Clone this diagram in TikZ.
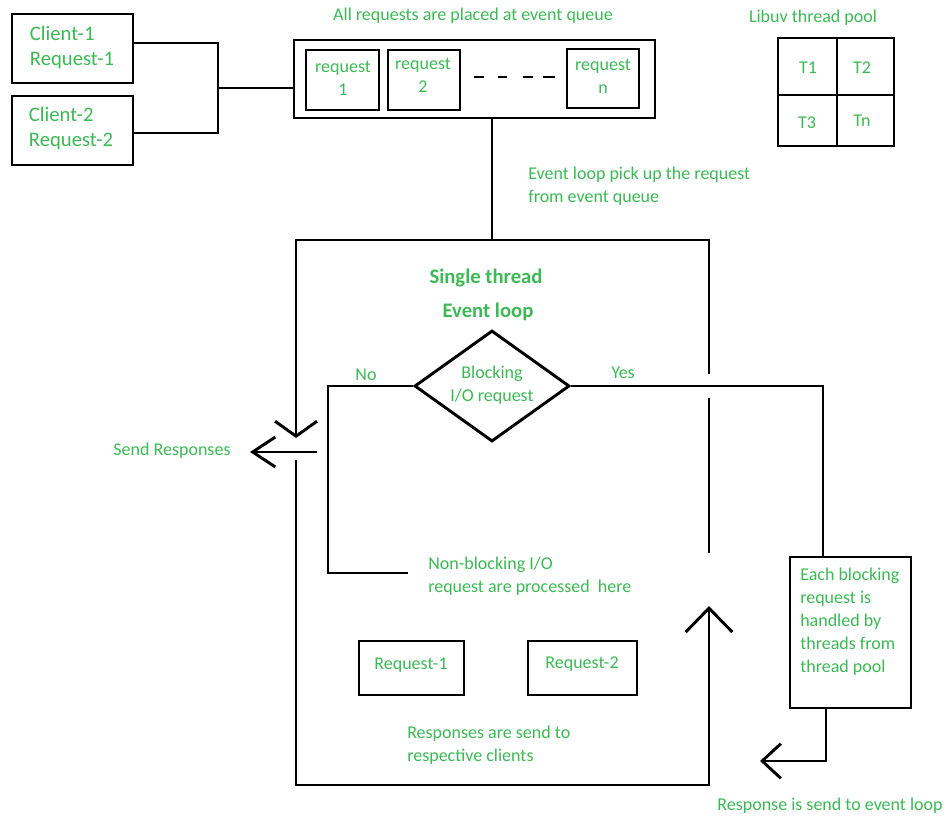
\documentclass[tikz,border=0pt]{standalone}
\usepackage{fontspec}
\setmainfont{Carlito}
\usetikzlibrary{arrows.meta,shapes.geometric}
\definecolor{lbl}{RGB}{60,185,85}
\tikzset{
  box/.style={draw, line width=2.2pt, inner sep=0pt, outer sep=0pt},
  ln/.style={line width=2.2pt},
  txt/.style={text=lbl, font=\fontsize{13.5}{17.25}\selectfont, align=left, inner sep=0pt},
  bigtxt/.style={text=lbl, font=\fontsize{15.5}{18.75}\selectfont, align=left, inner sep=0pt},
  boldtxt/.style={text=lbl, font=\bfseries\fontsize{15.5}{18.75}\selectfont, inner sep=0pt},
}
\begin{document}
\begin{tikzpicture}[x=0.75pt,y=-0.75pt]
\useasboundingbox (0,0) rectangle (946,816);

% clients
\node[box, minimum width=90.75pt, minimum height=51.75pt] (c1) at (72.5,48.5) {};
\node[bigtxt] at (72,47) {Client-1\\Request-1};
\node[box, minimum width=90.75pt, minimum height=51.75pt] (c2) at (72.5,130.5) {};
\node[bigtxt] at (71,128) {Client-2\\Request-2};

% event queue
\node[txt] (qlabel) at (473,16) {All requests are placed at event queue};
\node[box, minimum width=270.75pt, minimum height=58.5pt] (queue) at (474.5,79) {};
\node[box, minimum width=54.75pt, minimum height=45pt] (r1) at (342.5,80) {};
\node[txt, align=center] at (343,78) {request\\1};
\node[box, minimum width=54pt, minimum height=45pt] (r2) at (424,80) {};
\node[txt, align=center] at (423,75) {request\\2};
\node[box, minimum width=54pt, minimum height=44.25pt] (rn) at (603,78.5) {};
\node[txt, align=center] at (603,76) {request\\n};
\coordinate (d1a) at (474,77); \coordinate (d1b) at (484,77);
\coordinate (d2a) at (498,77); \coordinate (d2b) at (507,77);
\coordinate (d3a) at (523,77); \coordinate (d3b) at (533,77);
\coordinate (d4a) at (543,77); \coordinate (d4b) at (555,77);
\draw[ln] (d1a) -- (d1b) (d2a) -- (d2b) (d3a) -- (d3b) (d4a) -- (d4b);

% client connectors
\coordinate (j) at (218,88);
\draw[ln] ([yshift=4.1pt]c1.east) -| (j);
\draw[ln] ([yshift=-1.9pt]c2.east) -| (j);
\draw[ln] (j) -- (j -| queue.west);

% thread pool
\node[txt] (plabel) at (813,18) {Libuv thread pool};
\node[box, minimum width=44.25pt, minimum height=42.75pt] (t1) at (807.5,66.5) {};
\node[box, minimum width=42.75pt, minimum height=42.75pt] (t2) at (865.5,66.5) {};
\node[box, minimum width=44.25pt, minimum height=38.25pt] (t3) at (807.5,120.5) {};
\node[box, minimum width=42.75pt, minimum height=38.25pt] (tn) at (865.5,120.5) {};
\node[txt] at (808,68) {T1};
\node[txt] at (862,68) {T2};
\node[txt] at (807,123) {T3};
\node[txt] at (862,121) {Tn};

% event loop
\node[diamond, draw, line width=2.2pt, minimum width=116.25pt, minimum height=83.25pt, inner sep=0pt] (dia) at (492,386) {};
\node[txt, align=center] at (492,385) {Blocking\\I/O request};
\node[txt] (pick) [anchor=west] at (528,186.5) {Event loop pick up the request\\from event queue};
\node[boldtxt] at (486,278) {Single thread};
\node[boldtxt] at (488,312) {Event loop};
\node[txt] at (366,375) {No};
\node[txt] at (623,373) {Yes};

\coordinate (TL) at (296,240);
\coordinate (TR) at (709,240);
\coordinate (BL) at (296,785);
\coordinate (BR) at (709,785);
\coordinate (rg1) at (709,374);
\coordinate (rg2) at (709,398);
\coordinate (rg3) at (709,553);
\coordinate (uptip) at (709,606);
\coordinate (dntip) at (296,438);
\coordinate (lg) at (296,460);

\draw[ln] (dia.north |- queue.south) -- (dia.north |- TL);
\draw[ln, -{Straight Barb[length=11.25pt, width=31.5pt]}] (rg1) -- (TR) -- (TL) -- (dntip);
\draw[ln, -{Straight Barb[length=18pt, width=35pt]}] (lg) -- (BL) -- (BR) -- (uptip);
\draw[ln] (rg2) -- (rg3);

% send responses
\node[txt] (send) at (172,451) {Send Responses};
\coordinate (sr1) at (317,452);
\coordinate (sr2) at (250,452);
\draw[ln, -{Straight Barb[length=17pt, width=22.5pt]}] (sr1) -- (sr2);

% non-blocking branch
\coordinate (nbc) at (328,573);
\coordinate (nbe) at (408,573);
\draw[ln] (dia.west) -| (nbc) -- (nbe);
\node[txt, anchor=west] (nb) at (428,576.5) {Non-blocking I/O\\request are processed\ \ here};

\node[box, minimum width=78.75pt, minimum height=40.5pt] (q1) at (411.5,668) {};
\node[txt] at (411,665) {Request-1};
\node[box, minimum width=81.75pt, minimum height=40.5pt] (q2) at (582.5,668) {};
\node[txt] at (582,664) {Request-2};
\node[txt, anchor=west] (resp) at (407,745.5) {Responses are send to\\respective clients};

% blocking branch
\node[box, minimum width=90.75pt, minimum height=113.25pt] (each) at (850.5,632.5) {};
\node[txt, anchor=north west] at (800,568) {Each blocking\\request is\\handled by\\threads from\\thread pool};
\coordinate (yc) at (823,386);
\draw[ln] (dia.east) -- (yc) -- (yc |- each.north);
\coordinate (rc) at (826,761);
\coordinate (rtip) at (760,761);
\draw[ln, -{Straight Barb[length=14pt, width=26pt]}] (rc |- each.south) -- (rc) -- (rtip);
\node[txt] (rsend) at (830,806) {Response is send to event loop};
\end{tikzpicture}
\end{document}
